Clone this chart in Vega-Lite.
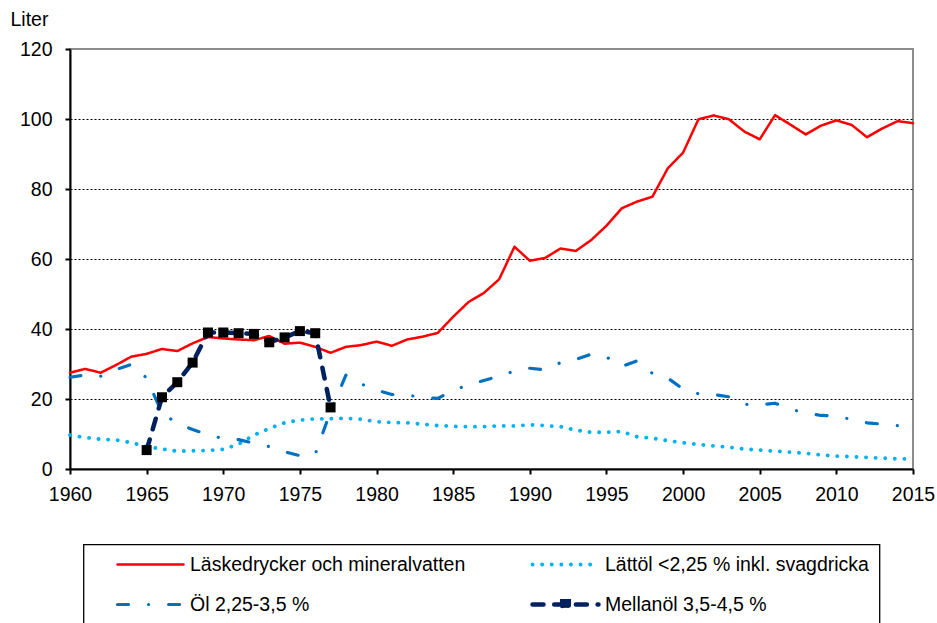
{
  "$schema": "https://vega.github.io/schema/vega-lite/v6.json",
  "width": 843,
  "height": 420,
  "autosize": {"type": "none"},
  "padding": {"left": 70, "top": 49, "right": 24, "bottom": 154},
  "config": {
    "font": "Liberation Sans",
    "view": {"stroke": "#8c8c8c", "strokeWidth": 2},
    "axis": {
      "labelFontSize": 19.5,
      "labelColor": "#000",
      "tickColor": "#000",
      "tickWidth": 2,
      "tickSize": 5,
      "domainColor": "#000",
      "domainWidth": 2,
      "titleColor": "#000"
    },
    "legend": {"strokeWidth": 1.3}
  },
  "data": {
    "values": [
      {"year": 1960, "series": "Läskedrycker och mineralvatten", "value": 27.5},
      {"year": 1961, "series": "Läskedrycker och mineralvatten", "value": 28.6},
      {"year": 1962, "series": "Läskedrycker och mineralvatten", "value": 27.5},
      {"year": 1963, "series": "Läskedrycker och mineralvatten", "value": 29.7},
      {"year": 1964, "series": "Läskedrycker och mineralvatten", "value": 32.1},
      {"year": 1965, "series": "Läskedrycker och mineralvatten", "value": 32.9},
      {"year": 1966, "series": "Läskedrycker och mineralvatten", "value": 34.3},
      {"year": 1967, "series": "Läskedrycker och mineralvatten", "value": 33.7},
      {"year": 1968, "series": "Läskedrycker och mineralvatten", "value": 35.9},
      {"year": 1969, "series": "Läskedrycker och mineralvatten", "value": 37.7},
      {"year": 1970, "series": "Läskedrycker och mineralvatten", "value": 37.3},
      {"year": 1971, "series": "Läskedrycker och mineralvatten", "value": 37.0},
      {"year": 1972, "series": "Läskedrycker och mineralvatten", "value": 36.8},
      {"year": 1973, "series": "Läskedrycker och mineralvatten", "value": 38.0},
      {"year": 1974, "series": "Läskedrycker och mineralvatten", "value": 35.8},
      {"year": 1975, "series": "Läskedrycker och mineralvatten", "value": 36.1},
      {"year": 1976, "series": "Läskedrycker och mineralvatten", "value": 34.9},
      {"year": 1977, "series": "Läskedrycker och mineralvatten", "value": 33.2},
      {"year": 1978, "series": "Läskedrycker och mineralvatten", "value": 34.9},
      {"year": 1979, "series": "Läskedrycker och mineralvatten", "value": 35.4},
      {"year": 1980, "series": "Läskedrycker och mineralvatten", "value": 36.4},
      {"year": 1981, "series": "Läskedrycker och mineralvatten", "value": 35.2},
      {"year": 1982, "series": "Läskedrycker och mineralvatten", "value": 37.0},
      {"year": 1983, "series": "Läskedrycker och mineralvatten", "value": 37.8},
      {"year": 1984, "series": "Läskedrycker och mineralvatten", "value": 38.9},
      {"year": 1985, "series": "Läskedrycker och mineralvatten", "value": 43.5},
      {"year": 1986, "series": "Läskedrycker och mineralvatten", "value": 47.7},
      {"year": 1987, "series": "Läskedrycker och mineralvatten", "value": 50.3},
      {"year": 1988, "series": "Läskedrycker och mineralvatten", "value": 54.2},
      {"year": 1989, "series": "Läskedrycker och mineralvatten", "value": 63.5},
      {"year": 1990, "series": "Läskedrycker och mineralvatten", "value": 59.5},
      {"year": 1991, "series": "Läskedrycker och mineralvatten", "value": 60.3},
      {"year": 1992, "series": "Läskedrycker och mineralvatten", "value": 63.0},
      {"year": 1993, "series": "Läskedrycker och mineralvatten", "value": 62.3},
      {"year": 1994, "series": "Läskedrycker och mineralvatten", "value": 65.4},
      {"year": 1995, "series": "Läskedrycker och mineralvatten", "value": 69.5},
      {"year": 1996, "series": "Läskedrycker och mineralvatten", "value": 74.5},
      {"year": 1997, "series": "Läskedrycker och mineralvatten", "value": 76.4},
      {"year": 1998, "series": "Läskedrycker och mineralvatten", "value": 77.8},
      {"year": 1999, "series": "Läskedrycker och mineralvatten", "value": 85.9},
      {"year": 2000, "series": "Läskedrycker och mineralvatten", "value": 90.4},
      {"year": 2001, "series": "Läskedrycker och mineralvatten", "value": 99.9},
      {"year": 2002, "series": "Läskedrycker och mineralvatten", "value": 101.0},
      {"year": 2003, "series": "Läskedrycker och mineralvatten", "value": 99.9},
      {"year": 2004, "series": "Läskedrycker och mineralvatten", "value": 96.4},
      {"year": 2005, "series": "Läskedrycker och mineralvatten", "value": 94.2},
      {"year": 2006, "series": "Läskedrycker och mineralvatten", "value": 101.1},
      {"year": 2007, "series": "Läskedrycker och mineralvatten", "value": 98.4},
      {"year": 2008, "series": "Läskedrycker och mineralvatten", "value": 95.6},
      {"year": 2009, "series": "Läskedrycker och mineralvatten", "value": 98.1},
      {"year": 2010, "series": "Läskedrycker och mineralvatten", "value": 99.6},
      {"year": 2011, "series": "Läskedrycker och mineralvatten", "value": 98.3},
      {"year": 2012, "series": "Läskedrycker och mineralvatten", "value": 94.8},
      {"year": 2013, "series": "Läskedrycker och mineralvatten", "value": 97.3},
      {"year": 2014, "series": "Läskedrycker och mineralvatten", "value": 99.4},
      {"year": 2015, "series": "Läskedrycker och mineralvatten", "value": 98.8},
      {"year": 1960, "series": "Lättöl <2,25 % inkl. svagdricka", "value": 9.7},
      {"year": 1961, "series": "Lättöl <2,25 % inkl. svagdricka", "value": 9.0},
      {"year": 1962, "series": "Lättöl <2,25 % inkl. svagdricka", "value": 8.5},
      {"year": 1963, "series": "Lättöl <2,25 % inkl. svagdricka", "value": 8.3},
      {"year": 1964, "series": "Lättöl <2,25 % inkl. svagdricka", "value": 7.5},
      {"year": 1965, "series": "Lättöl <2,25 % inkl. svagdricka", "value": 6.4},
      {"year": 1966, "series": "Lättöl <2,25 % inkl. svagdricka", "value": 5.7},
      {"year": 1967, "series": "Lättöl <2,25 % inkl. svagdricka", "value": 5.1},
      {"year": 1968, "series": "Lättöl <2,25 % inkl. svagdricka", "value": 5.2},
      {"year": 1969, "series": "Lättöl <2,25 % inkl. svagdricka", "value": 5.3},
      {"year": 1970, "series": "Lättöl <2,25 % inkl. svagdricka", "value": 5.6},
      {"year": 1971, "series": "Lättöl <2,25 % inkl. svagdricka", "value": 7.1},
      {"year": 1972, "series": "Lättöl <2,25 % inkl. svagdricka", "value": 9.7},
      {"year": 1973, "series": "Lättöl <2,25 % inkl. svagdricka", "value": 11.6},
      {"year": 1974, "series": "Lättöl <2,25 % inkl. svagdricka", "value": 13.2},
      {"year": 1975, "series": "Lättöl <2,25 % inkl. svagdricka", "value": 14.0},
      {"year": 1976, "series": "Lättöl <2,25 % inkl. svagdricka", "value": 14.3},
      {"year": 1977, "series": "Lättöl <2,25 % inkl. svagdricka", "value": 14.4},
      {"year": 1978, "series": "Lättöl <2,25 % inkl. svagdricka", "value": 14.5},
      {"year": 1979, "series": "Lättöl <2,25 % inkl. svagdricka", "value": 14.2},
      {"year": 1980, "series": "Lättöl <2,25 % inkl. svagdricka", "value": 13.5},
      {"year": 1981, "series": "Lättöl <2,25 % inkl. svagdricka", "value": 13.3},
      {"year": 1982, "series": "Lättöl <2,25 % inkl. svagdricka", "value": 13.2},
      {"year": 1983, "series": "Lättöl <2,25 % inkl. svagdricka", "value": 12.8},
      {"year": 1984, "series": "Lättöl <2,25 % inkl. svagdricka", "value": 12.4},
      {"year": 1985, "series": "Lättöl <2,25 % inkl. svagdricka", "value": 12.2},
      {"year": 1986, "series": "Lättöl <2,25 % inkl. svagdricka", "value": 12.1},
      {"year": 1987, "series": "Lättöl <2,25 % inkl. svagdricka", "value": 12.1},
      {"year": 1988, "series": "Lättöl <2,25 % inkl. svagdricka", "value": 12.3},
      {"year": 1989, "series": "Lättöl <2,25 % inkl. svagdricka", "value": 12.3},
      {"year": 1990, "series": "Lättöl <2,25 % inkl. svagdricka", "value": 12.6},
      {"year": 1991, "series": "Lättöl <2,25 % inkl. svagdricka", "value": 12.4},
      {"year": 1992, "series": "Lättöl <2,25 % inkl. svagdricka", "value": 12.1},
      {"year": 1993, "series": "Lättöl <2,25 % inkl. svagdricka", "value": 11.1},
      {"year": 1994, "series": "Lättöl <2,25 % inkl. svagdricka", "value": 10.5},
      {"year": 1995, "series": "Lättöl <2,25 % inkl. svagdricka", "value": 10.5},
      {"year": 1996, "series": "Lättöl <2,25 % inkl. svagdricka", "value": 10.7},
      {"year": 1997, "series": "Lättöl <2,25 % inkl. svagdricka", "value": 9.2},
      {"year": 1998, "series": "Lättöl <2,25 % inkl. svagdricka", "value": 8.8},
      {"year": 1999, "series": "Lättöl <2,25 % inkl. svagdricka", "value": 8.1},
      {"year": 2000, "series": "Lättöl <2,25 % inkl. svagdricka", "value": 7.5},
      {"year": 2001, "series": "Lättöl <2,25 % inkl. svagdricka", "value": 7.0},
      {"year": 2002, "series": "Lättöl <2,25 % inkl. svagdricka", "value": 6.6},
      {"year": 2003, "series": "Lättöl <2,25 % inkl. svagdricka", "value": 6.2},
      {"year": 2004, "series": "Lättöl <2,25 % inkl. svagdricka", "value": 5.7},
      {"year": 2005, "series": "Lättöl <2,25 % inkl. svagdricka", "value": 5.4},
      {"year": 2006, "series": "Lättöl <2,25 % inkl. svagdricka", "value": 5.1},
      {"year": 2007, "series": "Lättöl <2,25 % inkl. svagdricka", "value": 4.8},
      {"year": 2008, "series": "Lättöl <2,25 % inkl. svagdricka", "value": 4.5},
      {"year": 2009, "series": "Lättöl <2,25 % inkl. svagdricka", "value": 4.0},
      {"year": 2010, "series": "Lättöl <2,25 % inkl. svagdricka", "value": 3.7},
      {"year": 2011, "series": "Lättöl <2,25 % inkl. svagdricka", "value": 3.5},
      {"year": 2012, "series": "Lättöl <2,25 % inkl. svagdricka", "value": 3.3},
      {"year": 2013, "series": "Lättöl <2,25 % inkl. svagdricka", "value": 3.1},
      {"year": 2014, "series": "Lättöl <2,25 % inkl. svagdricka", "value": 2.9},
      {"year": 2015, "series": "Lättöl <2,25 % inkl. svagdricka", "value": 2.9},
      {"year": 1960, "series": "Öl 2,25-3,5 %", "value": 26.2},
      {"year": 1961, "series": "Öl 2,25-3,5 %", "value": 26.9},
      {"year": 1962, "series": "Öl 2,25-3,5 %", "value": 26.5},
      {"year": 1963, "series": "Öl 2,25-3,5 %", "value": 28.4},
      {"year": 1964, "series": "Öl 2,25-3,5 %", "value": 29.9},
      {"year": 1965, "series": "Öl 2,25-3,5 %", "value": 26.0},
      {"year": 1966, "series": "Öl 2,25-3,5 %", "value": 16.0},
      {"year": 1967, "series": "Öl 2,25-3,5 %", "value": 13.0},
      {"year": 1968, "series": "Öl 2,25-3,5 %", "value": 11.3},
      {"year": 1969, "series": "Öl 2,25-3,5 %", "value": 9.8},
      {"year": 1970, "series": "Öl 2,25-3,5 %", "value": 8.7},
      {"year": 1971, "series": "Öl 2,25-3,5 %", "value": 8.4},
      {"year": 1972, "series": "Öl 2,25-3,5 %", "value": 7.4},
      {"year": 1973, "series": "Öl 2,25-3,5 %", "value": 6.4},
      {"year": 1974, "series": "Öl 2,25-3,5 %", "value": 4.9},
      {"year": 1975, "series": "Öl 2,25-3,5 %", "value": 3.8},
      {"year": 1976, "series": "Öl 2,25-3,5 %", "value": 4.2},
      {"year": 1977, "series": "Öl 2,25-3,5 %", "value": 16.5},
      {"year": 1978, "series": "Öl 2,25-3,5 %", "value": 26.8},
      {"year": 1979, "series": "Öl 2,25-3,5 %", "value": 24.3},
      {"year": 1980, "series": "Öl 2,25-3,5 %", "value": 22.5},
      {"year": 1981, "series": "Öl 2,25-3,5 %", "value": 21.3},
      {"year": 1982, "series": "Öl 2,25-3,5 %", "value": 21.2},
      {"year": 1983, "series": "Öl 2,25-3,5 %", "value": 20.3},
      {"year": 1984, "series": "Öl 2,25-3,5 %", "value": 20.2},
      {"year": 1985, "series": "Öl 2,25-3,5 %", "value": 22.5},
      {"year": 1986, "series": "Öl 2,25-3,5 %", "value": 24.0},
      {"year": 1987, "series": "Öl 2,25-3,5 %", "value": 25.3},
      {"year": 1988, "series": "Öl 2,25-3,5 %", "value": 26.5},
      {"year": 1989, "series": "Öl 2,25-3,5 %", "value": 28.0},
      {"year": 1990, "series": "Öl 2,25-3,5 %", "value": 28.8},
      {"year": 1991, "series": "Öl 2,25-3,5 %", "value": 28.3},
      {"year": 1992, "series": "Öl 2,25-3,5 %", "value": 30.4},
      {"year": 1993, "series": "Öl 2,25-3,5 %", "value": 31.3},
      {"year": 1994, "series": "Öl 2,25-3,5 %", "value": 32.8},
      {"year": 1995, "series": "Öl 2,25-3,5 %", "value": 32.0},
      {"year": 1996, "series": "Öl 2,25-3,5 %", "value": 29.3},
      {"year": 1997, "series": "Öl 2,25-3,5 %", "value": 30.9},
      {"year": 1998, "series": "Öl 2,25-3,5 %", "value": 27.3},
      {"year": 1999, "series": "Öl 2,25-3,5 %", "value": 26.0},
      {"year": 2000, "series": "Öl 2,25-3,5 %", "value": 22.8},
      {"year": 2001, "series": "Öl 2,25-3,5 %", "value": 21.5},
      {"year": 2002, "series": "Öl 2,25-3,5 %", "value": 21.3},
      {"year": 2003, "series": "Öl 2,25-3,5 %", "value": 20.6},
      {"year": 2004, "series": "Öl 2,25-3,5 %", "value": 18.5},
      {"year": 2005, "series": "Öl 2,25-3,5 %", "value": 18.3},
      {"year": 2006, "series": "Öl 2,25-3,5 %", "value": 18.8},
      {"year": 2007, "series": "Öl 2,25-3,5 %", "value": 17.1},
      {"year": 2008, "series": "Öl 2,25-3,5 %", "value": 16.0},
      {"year": 2009, "series": "Öl 2,25-3,5 %", "value": 15.3},
      {"year": 2010, "series": "Öl 2,25-3,5 %", "value": 15.2},
      {"year": 2011, "series": "Öl 2,25-3,5 %", "value": 14.1},
      {"year": 2012, "series": "Öl 2,25-3,5 %", "value": 13.2},
      {"year": 2013, "series": "Öl 2,25-3,5 %", "value": 12.8},
      {"year": 2014, "series": "Öl 2,25-3,5 %", "value": 12.4},
      {"year": 2015, "series": "Öl 2,25-3,5 %", "value": 12.0},
      {"year": 1965, "series": "Mellanöl 3,5-4,5 %", "value": 5.4},
      {"year": 1966, "series": "Mellanöl 3,5-4,5 %", "value": 20.5},
      {"year": 1967, "series": "Mellanöl 3,5-4,5 %", "value": 24.8},
      {"year": 1968, "series": "Mellanöl 3,5-4,5 %", "value": 30.4},
      {"year": 1969, "series": "Mellanöl 3,5-4,5 %", "value": 39.0},
      {"year": 1970, "series": "Mellanöl 3,5-4,5 %", "value": 39.0},
      {"year": 1971, "series": "Mellanöl 3,5-4,5 %", "value": 38.8},
      {"year": 1972, "series": "Mellanöl 3,5-4,5 %", "value": 38.6},
      {"year": 1973, "series": "Mellanöl 3,5-4,5 %", "value": 36.2},
      {"year": 1974, "series": "Mellanöl 3,5-4,5 %", "value": 37.6},
      {"year": 1975, "series": "Mellanöl 3,5-4,5 %", "value": 39.4},
      {"year": 1976, "series": "Mellanöl 3,5-4,5 %", "value": 38.8},
      {"year": 1977, "series": "Mellanöl 3,5-4,5 %", "value": 17.6}
    ]
  },
  "layer": [
    {
      "mark": {"type": "line", "strokeCap": "round", "strokeJoin": "round"},
      "encoding": {
        "x": {
          "field": "year", "type": "quantitative",
          "scale": {"domain": [1960, 2015], "nice": false, "zero": false},
          "axis": {
            "title": null,
            "values": [1960, 1965, 1970, 1975, 1980, 1985, 1990, 1995, 2000, 2005, 2010, 2015],
            "format": "d",
            "grid": false,
            "labelPadding": 11,
            "labelFlush": false,
            "labelOverlap": false
          }
        },
        "y": {
          "field": "value", "type": "quantitative",
          "scale": {"domain": [0, 120], "nice": false},
          "axis": {
            "values": [0, 10, 20, 30, 40, 50, 60, 70, 80, 90, 100, 110, 120],
            "labelExpr": "datum.value % 20 === 0 ? datum.label : ''",
            "labelOverlap": false,
            "labelFlush": false,
            "labelPadding": 13,
            "title": "Liter",
            "titleAngle": 0,
            "titleAlign": "left",
            "titleBaseline": "alphabetic",
            "titleX": -60,
            "titleY": -24,
            "titleFontSize": 19.5,
            "titleFontWeight": "normal",
            "grid": true,
            "gridColor": "#000",
            "gridDash": [2, 2],
            "gridWidth": 1,
            "gridOpacity": {"condition": {"test": "datum.value % 20 === 0 && datum.value > 0 && datum.value < 120", "value": 1}, "value": 0}
          }
        },
        "color": {
          "field": "series", "type": "nominal",
          "scale": {
            "domain": ["Läskedrycker och mineralvatten", "Öl 2,25-3,5 %", "Lättöl <2,25 % inkl. svagdricka", "Mellanöl 3,5-4,5 %"],
            "range": ["#ff0000", "#0070c0", "#00b0f0", "#002060"]
          },
          "legend": {
            "orient": "none",
            "legendX": 13.5,
            "legendY": 495.5,
            "columns": 2,
            "title": null,
            "symbolType": "stroke",
            "symbolSize": 4356,
            "symbolOffset": 21.5,
            "symbolStrokeWidth": 4.5,
            "labelOffset": 4,
            "labelFontSize": 19.5,
            "labelColor": "#000",
            "labelLimit": 500,
            "padding": 10,
            "rowPadding": 20,
            "columnPadding": 43,
            "clipHeight": 20,
            "gridAlign": "all",
            "strokeColor": "#000",
            "encode": {
              "symbols": {
                "update": {
                  "strokeCap": {"value": "round"},
                  "strokeWidth": {"signal": "datum.value === 'Läskedrycker och mineralvatten' ? 2.5 : 4.5"},
                  "shape": {"signal": "datum.value === 'Mellanöl 3,5-4,5 %' ? 'M-1,0H1M-0.1,-0.1H0.1V0.1H-0.1Z' : 'stroke'"},
                  "fill": {"signal": "datum.value === 'Mellanöl 3,5-4,5 %' ? '#000' : 'transparent'"}
                }
              }
            }
          }
        },
        "strokeDash": {
          "field": "series", "type": "nominal",
          "scale": {
            "domain": ["Läskedrycker och mineralvatten", "Öl 2,25-3,5 %", "Lättöl <2,25 % inkl. svagdricka", "Mellanöl 3,5-4,5 %"],
            "range": [[1, 0], [11, 20, 0.1, 20], [0.1, 9.5], [11, 10.7]]
          }
        },
        "strokeWidth": {
          "field": "series", "type": "nominal",
          "scale": {
            "domain": ["Läskedrycker och mineralvatten", "Öl 2,25-3,5 %", "Lättöl <2,25 % inkl. svagdricka", "Mellanöl 3,5-4,5 %"],
            "range": [2.5, 4.5, 4, 5]
          },
          "legend": null
        }
      }
    },
    {
      "transform": [{"filter": "datum.series === 'Mellanöl 3,5-4,5 %'"}],
      "mark": {"type": "point", "shape": "square", "filled": true, "color": "#000", "opacity": 1, "size": 100},
      "encoding": {
        "x": {"field": "year", "type": "quantitative"},
        "y": {"field": "value", "type": "quantitative"}
      }
    }
  ]
}
